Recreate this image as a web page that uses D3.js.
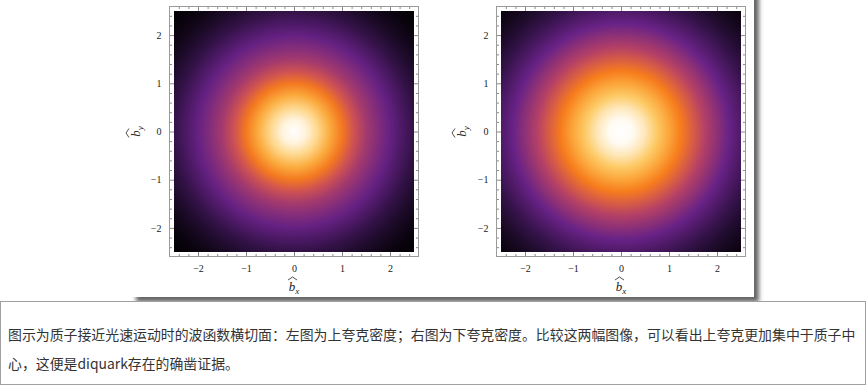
<!DOCTYPE html>
<html>
<head>
<meta charset="utf-8">
<script src="https://cdn.jsdelivr.net/npm/d3@7"></script>
<style>
  body { margin: 0; background: #fff; }
  svg { display: block; }
  .tick text { font-family: "Liberation Serif", "DejaVu Serif", serif; font-size: 10px; fill: #222; }
  .tick line { stroke: #8a8a8a; }
</style>
</head>
<body>
<div id="chart"></div>
<script>
// data
const majorTicks = [-2, -1, 0, 1, 2];
const minorTicks = [-2.4, -2.2, -1.8, -1.6, -1.4, -1.2, -0.8, -0.6, -0.4, -0.2,
                    0.2, 0.4, 0.6, 0.8, 1.2, 1.4, 1.6, 1.8, 2.2, 2.4];
const radii      = [0, 0.25, 0.5, 0.75, 1, 1.25, 1.5, 1.75, 2, 2.25, 2.5, 2.75, 3, 3.25, 3.54];
// left: up quark density, right: down quark density (normalised)
const upDensity   = [1, 0.97, 0.9, 0.8, 0.69, 0.58, 0.49, 0.43, 0.37, 0.29, 0.21, 0.14, 0.08, 0.04, 0.01];
const downDensity = [1, 0.99, 0.94, 0.87, 0.79, 0.7, 0.61, 0.52, 0.45, 0.38, 0.3, 0.22, 0.15, 0.09, 0.04];
const captionLines = [
  "图示为质子接近光速运动时的波函数横切面：左图为上夸克密度；右图为下夸克密度。比较这两幅图像，可以看出上夸克更加集中于质子中",
  "心，这便是diquark存在的确凿证据。"
];

const W = 868, H = 387;
const svg = d3.select("#chart").append("svg").attr("width", W).attr("height", H);
const defs = svg.append("defs");

// sunset-like colour map
const color = d3.scaleLinear()
  .domain([0, 0.18, 0.38, 0.55, 0.7, 0.85, 1])
  .range(["#000000", "#2a0f3c", "#682286", "#c4475f", "#f77d1c", "#fdc24f", "#ffffff"])
  .interpolate(d3.interpolateRgb);

// figure card with shadow
const shadow = defs.append("filter").attr("id", "shadow")
  .attr("x", "-5%").attr("y", "-5%").attr("width", "115%").attr("height", "120%");
shadow.append("feDropShadow").attr("dx", 5).attr("dy", 5).attr("stdDeviation", 2.2)
  .attr("flood-color", "#555").attr("flood-opacity", 0.9);
svg.append("rect").attr("x", 131).attr("y", -10).attr("width", 623).attr("height", 307)
  .attr("fill", "#fff").attr("filter", "url(#shadow)");

const yScale = d3.scaleLinear().domain([-2.5, 2.5]).range([252, 11]);

const panels = [
  {id: "up", x0: 174, x1: 414, dens: upDensity, ylabX: 140},
  {id: "down", x0: 501, x1: 741, dens: downDensity, ylabX: 466}
];

panels.forEach(p => {
  const xScale = d3.scaleLinear().domain([-2.5, 2.5]).range([p.x0, p.x1]);
  const rPx = xScale(radii[radii.length - 1]) - xScale(0);

  const grad = defs.append("radialGradient").attr("id", "g-" + p.id)
    .attr("gradientUnits", "userSpaceOnUse")
    .attr("cx", xScale(0)).attr("cy", yScale(0)).attr("r", rPx);
  grad.selectAll("stop").data(radii).join("stop")
    .attr("offset", d => d / radii[radii.length - 1])
    .attr("stop-color", (d, i) => color(p.dens[i]));

  const g = svg.append("g");
  g.append("rect")
    .attr("x", xScale(-2.5)).attr("y", yScale(2.5))
    .attr("width", xScale(2.5) - xScale(-2.5)).attr("height", yScale(-2.5) - yScale(2.5))
    .attr("fill", `url(#g-${p.id})`);

  // frame
  const fx0 = xScale(-2.5) - 4.5, fx1 = xScale(2.5) + 4.5;
  const fy0 = yScale(2.5) - 4.5, fy1 = yScale(-2.5) + 4.5;

  const axes = [
    {gen: d3.axisBottom(xScale), t: `translate(0,${fy1})`, lab: true},
    {gen: d3.axisTop(xScale), t: `translate(0,${fy0})`, lab: false},
    {gen: d3.axisLeft(yScale), t: `translate(${fx0},0)`, lab: true},
    {gen: d3.axisRight(yScale), t: `translate(${fx1},0)`, lab: false}
  ];
  axes.forEach(a => {
    const major = g.append("g").attr("transform", a.t)
      .call(a.gen.tickValues(majorTicks).tickSizeInner(-4.5).tickSizeOuter(0).tickPadding(8)
        .tickFormat(a.lab ? (d => d < 0 ? "\u2212" + Math.abs(d) : d) : ""));
    major.select(".domain").remove();
    const minor = g.append("g").attr("transform", a.t)
      .call(a.gen.tickValues(minorTicks).tickSizeInner(-2.5).tickSizeOuter(0).tickFormat(""));
    minor.select(".domain").remove();
  });

  g.append("rect").attr("x", fx0).attr("y", fy0)
    .attr("width", fx1 - fx0).attr("height", fy1 - fy0)
    .attr("fill", "none").attr("stroke", "#9a9a9a").attr("stroke-width", 1);

  // axis labels b^_x, b^_y (hat drawn as a small wide caret)
  const labs = [
    {tr: `translate(${xScale(0)},291)`, sub: "x"},
    {tr: `translate(${p.ylabX},${yScale(0)}) rotate(-90)`, sub: "y"}
  ];
  labs.forEach(l => {
    const lg = g.append("g").attr("transform", l.tr);
    const t = lg.append("text").attr("text-anchor", "middle")
      .style("font-family", "Liberation Serif, DejaVu Serif, serif").style("font-size", "13px")
      .style("font-style", "italic").attr("fill", "#222");
    t.append("tspan").text("b");
    t.append("tspan").attr("dy", 3).style("font-size", "9px").text(l.sub);
    lg.append("path").attr("d", "M-6,-11 L-1.5,-14 L3,-11")
      .attr("fill", "none").attr("stroke", "#222").attr("stroke-width", 0.8);
  });
});

// caption box
svg.append("rect").attr("x", 0.5).attr("y", 301.5).attr("width", 865).attr("height", 83)
  .attr("fill", "#fff").attr("stroke", "#a0a0a0");
svg.selectAll("text.caption").data(captionLines).join("text")
  .attr("class", "caption")
  .attr("x", 8).attr("y", (d, i) => 340 + i * 29)
  .style("font-family", "Noto Sans CJK SC, sans-serif").style("font-size", "13.9px")
  .attr("fill", "#333")
  .text(d => d);
</script>
</body>
</html>
